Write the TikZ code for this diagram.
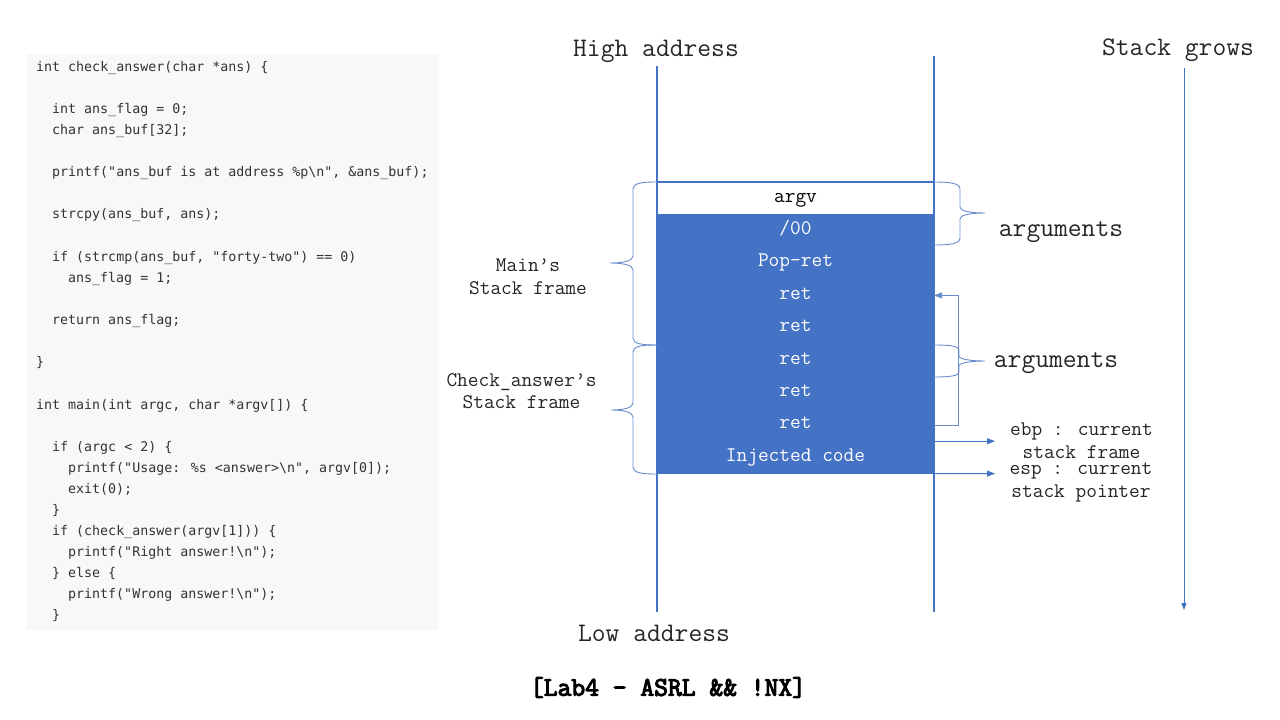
\documentclass[tikz,border=0pt]{standalone}
\usepackage{fontspec}
\usetikzlibrary{arrows.meta}
\newfontfamily\codefont{DejaVu Sans Mono}
\newfontfamily\courfont{Latin Modern Mono}
\newfontfamily\titlefont[FakeBold=4]{Latin Modern Mono}
\definecolor{stackblue}{HTML}{4472C4}
\definecolor{panelgray}{HTML}{F6F8FA}
\definecolor{codegray}{HTML}{333333}
\begin{document}
\begin{tikzpicture}[x=1pt,y=-1pt,
  code/.style={anchor=mid west, inner sep=0pt, font=\codefont\fontsize{13.3}{15}\selectfont, text=codegray},
  bigtext/.style={inner sep=0pt, font=\courfont\fontsize{26.8}{28}\selectfont, text=black!85},
  smalltext/.style={inner sep=0pt, align=center, font=\courfont\fontsize{20.8}{22.5}\selectfont, text=black!85},
  cell/.style={minimum width=277pt, minimum height=32.4pt, inner sep=0pt, outer sep=0pt,
    text height=2.2ex, text depth=0.4ex,
    font=\courfont\fontsize{20.8}{22}\selectfont, text=white, fill=stackblue},
  wall/.style={draw=stackblue, line width=1.8pt},
  thin/.style={draw=stackblue, line width=0.9pt},
  bracestyle/.style={draw=stackblue!80, line width=0.9pt},
  tip/.style={-{Triangle[length=8pt,width=6pt]}}
]
\useasboundingbox (0,0) rectangle (1280,720);
\fill[white] (0,0) rectangle (1280,720);

% code panel
\fill[panelgray] (27,54) rectangle (438,630);
\node[code] (l1)  at (36,69.5)  {int check\_answer(char *ans) \{};
\node[code] (l2)  at (52,111.5) {int ans\_flag = 0;};
\node[code] (l3)  at (52,132.5) {char ans\_buf[32];};
\node[code] (l4)  at (52,174.5) {printf("ans\_buf is at address \%p\textbackslash n", \&ans\_buf);};
\node[code] (l5)  at (52,216.5) {strcpy(ans\_buf, ans);};
\node[code] (l6)  at (52,259.5) {if (strcmp(ans\_buf, "forty-two") == 0)};
\node[code] (l7)  at (68,280.5) {ans\_flag = 1;};
\node[code] (l8)  at (52,322.5) {return ans\_flag;};
\node[code] (l9)  at (36,364.5) {\}};
\node[code] (l10) at (36,407.5) {int main(int argc, char *argv[]) \{};
\node[code] (l11) at (52,449.5) {if (argc < 2) \{};
\node[code] (l12) at (68,470.5) {printf("Usage: \%s <answer>\textbackslash n", argv[0]);};
\node[code] (l13) at (68,491.5) {exit(0);};
\node[code] (l14) at (52,512.5) {\}};
\node[code] (l15) at (52,533.5) {if (check\_answer(argv[1])) \{};
\node[code] (l16) at (68,554.5) {printf("Right answer!\textbackslash n");};
\node[code] (l17) at (52,575.5) {\} else \{};
\node[code] (l18) at (68,596.5) {printf("Wrong answer!\textbackslash n");};
\node[code] (l19) at (52,617.5) {\}};

% stack cells
\node[cell, fill=white, text=black] (argv) at (795.5,198.2) {argv};
\node[cell] (c00)    at (795.5,230.6) {/00};
\node[cell] (popret) at (795.5,263.0) {Pop-ret};
\node[cell] (ret1)   at (795.5,295.4) {ret};
\node[cell] (ret2)   at (795.5,327.8) {ret};
\node[cell] (ret3)   at (795.5,360.2) {ret};
\node[cell] (ret4)   at (795.5,392.6) {ret};
\node[cell] (ret5)   at (795.5,425.0) {ret};
\node[cell] (inj)    at (795.5,457.4) {Injected code};
\draw[stackblue, line width=1.8pt] (argv.north west) -- (argv.north east);

% walls
\coordinate (lwtop) at (657,66);
\coordinate (lwbot) at (657,612);
\coordinate (rwtop) at (934,56);
\coordinate (rwbot) at (934,612);
\draw[wall] (lwtop) -- (lwbot);
\draw[wall] (rwtop) -- (rwbot);

% labels
\node[bigtext] (high) at (656,51) {High address};
\node[bigtext] (low)  at (654,633.5) {Low address};
\node[bigtext] (grows) at (1178,50) {Stack grows};
\node[bigtext, font=\titlefont\fontsize{26.8}{28}\selectfont, text=black] (title) at (668,687.5) {[Lab4 - ASRL \&\& !NX]};
\node[bigtext] (args1) at (1061,232.5) {arguments};
\node[bigtext] (args2) at (1056,363.5) {arguments};
\node[smalltext] (mainsf) at (528,277) {Main’s\\Stack frame};
\node[smalltext] (checksf) at (521.5,391) {Check\_answer’s\\Stack frame};
\node[smalltext] (ebptext) at (1081.5,440.5) {ebp : current\\stack frame};
\node[smalltext] (esptext) at (1081,482.5) {esp : current\\stack pointer};

% stack grows arrow
\coordinate (gtop) at (1184,68);
\coordinate (gbot) at (1184,610);
\draw[thin, -{Triangle[length=7pt,width=5pt]}] (gtop) -- (gbot);

% braces
\draw[bracestyle] (657,182) .. controls (642,182) and (633,183) .. (633,189) -- (633,256)
  .. controls (633,261) and (623,263) .. (610,263)
  .. controls (623,263) and (633,265) .. (633,270) -- (633,338)
  .. controls (633,344) and (642,345) .. (657,345);
\draw[bracestyle] (657,345) .. controls (642,345) and (633,346) .. (633,352) -- (633,403)
  .. controls (633,408) and (623,410) .. (611,410)
  .. controls (623,410) and (633,412) .. (633,417) -- (633,467)
  .. controls (633,473) and (642,474) .. (657,474);
\draw[bracestyle] (934,182) .. controls (949,182) and (960,183) .. (960,189) -- (960,207)
  .. controls (960,211) and (970,213) .. (985,213)
  .. controls (970,213) and (960,215) .. (960,219) -- (960,238)
  .. controls (960,244) and (949,245) .. (934,245);
\draw[bracestyle] (934,345) .. controls (949,345) and (959,346) .. (959,350) -- (959,356)
  .. controls (959,359) and (970,361) .. (985,361)
  .. controls (970,361) and (959,363) .. (959,366) -- (959,372)
  .. controls (959,376) and (949,377) .. (934,377);

% ret loop arrow
\draw[bracestyle, tip] (ret5.east) -- ++(24,0) |- (ret1.east);

% ebp / esp arrows
\coordinate (ebpend) at (995,441.2);
\coordinate (espend) at (995,473.6);
\draw[thin, tip] (inj.north east) -- (ebpend);
\draw[thin, tip] (inj.south east) -- (espend);
\end{tikzpicture}
\end{document}
